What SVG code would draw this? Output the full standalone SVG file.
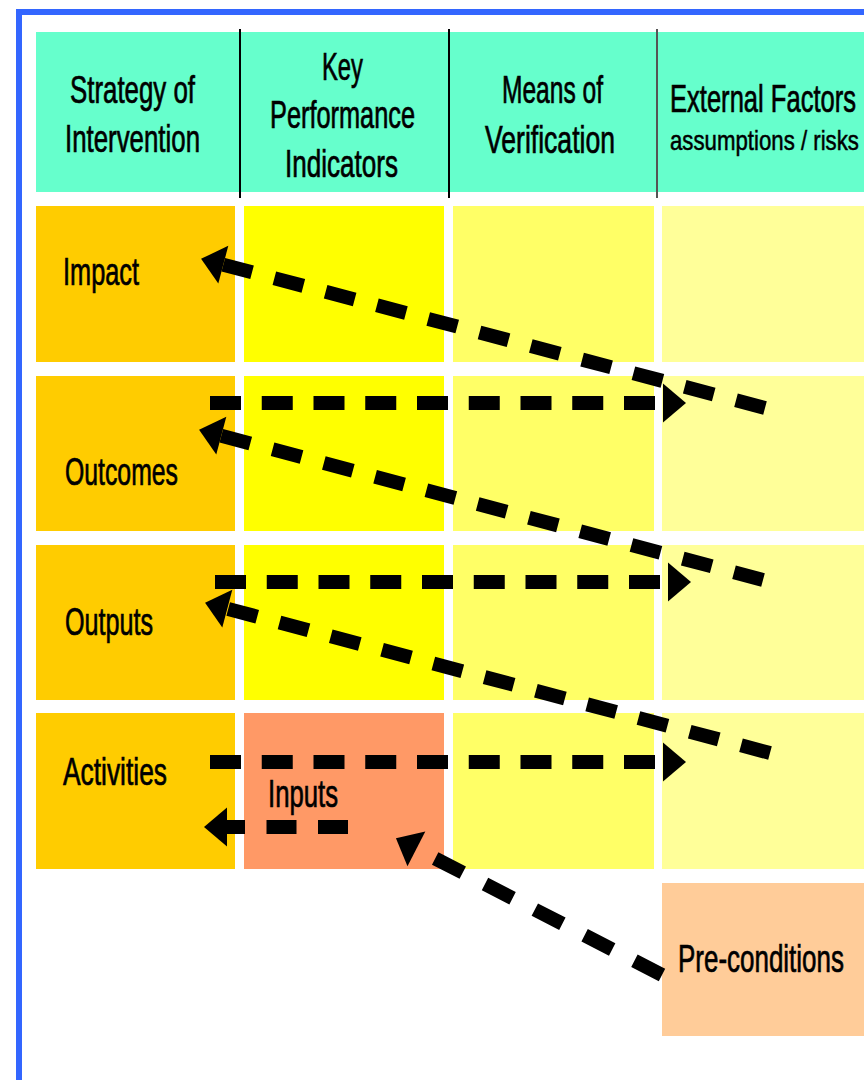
<svg xmlns="http://www.w3.org/2000/svg" width="864" height="1080" viewBox="0 0 864 1080">
  <style>
    .lbl { font-family: "Liberation Sans Narrow", "Liberation Sans", Arial, sans-serif; font-size: 38px; fill: #000; stroke: #000; stroke-width: 0.7px; }
    .wide { font-family: "Liberation Sans", Arial, sans-serif; }
    .sub { font-size: 27px; stroke-width: 0.5px; }
    .sep { stroke: #000; stroke-width: 2; }
    .flow { fill: none; stroke: #000; stroke-width: 14; marker-end: url(#head); }
    .fh { stroke-dasharray: 31 20.75; }
    .fd { stroke-dasharray: 30 23.06; }
    .hdr { fill: #66ffcc; }
    .strat { fill: #ffcc00; }
    .kpi { fill: #ffff00; }
    .mov { fill: #ffff66; }
    .ext { fill: #ffff99; }
  </style>
  <defs>
    <marker id="head" markerUnits="userSpaceOnUse" viewBox="0 -22 26 44" markerWidth="26" markerHeight="44" refX="0" refY="0" orient="auto" overflow="visible">
      <path d="M0,-19.5 L23,0 L0,19.5 Z" fill="#000"/>
    </marker>
  </defs>

  <rect width="864" height="1080" fill="#fff"/>
  <!-- outer frame -->
  <rect x="19" y="12" width="900" height="1100" fill="none" stroke="#3366ff" stroke-width="6"/>

  <!-- column headings -->
  <g id="header">
    <rect class="hdr" x="36" y="32" width="828" height="160"/>
    <line class="sep" x1="240" y1="29" x2="240" y2="198"/>
    <line class="sep" x1="449" y1="29" x2="449" y2="198"/>
    <line class="sep" x1="657" y1="29" x2="657" y2="198" style="stroke:#555"/>
  </g>
  <g id="head-strategy">
    <text class="lbl" x="70" y="103" textLength="125" lengthAdjust="spacingAndGlyphs">Strategy of</text>
    <text class="lbl" x="65" y="152" textLength="135" lengthAdjust="spacingAndGlyphs">Intervention</text>
  </g>
  <g id="head-kpi">
    <text class="lbl" x="322" y="80" textLength="41" lengthAdjust="spacingAndGlyphs">Key</text>
    <text class="lbl" x="270" y="128" textLength="145" lengthAdjust="spacingAndGlyphs">Performance</text>
    <text class="lbl" x="285" y="177" textLength="113" lengthAdjust="spacingAndGlyphs">Indicators</text>
  </g>
  <g id="head-mov">
    <text class="lbl" x="502" y="103" textLength="101" lengthAdjust="spacingAndGlyphs">Means of</text>
    <text class="lbl" x="485" y="153" textLength="130" lengthAdjust="spacingAndGlyphs">Verification</text>
  </g>
  <g id="head-ext">
    <text class="lbl wide" transform="translate(670,112) scale(0.672,1)" textLength="276.8" lengthAdjust="spacingAndGlyphs">External Factors</text>
    <text class="lbl wide sub" transform="translate(670,150) scale(0.823,1)" textLength="229.6" lengthAdjust="spacingAndGlyphs">assumptions / risks</text>
  </g>

  <!-- row: impact -->
  <g id="impact">
    <rect class="strat" x="36" y="206" width="199" height="156"/>
    <rect class="kpi" x="244" y="206" width="200" height="156"/>
    <rect class="mov" x="453" y="206" width="201" height="156"/>
    <rect class="ext" x="662" y="206" width="202" height="156"/>
    <text class="lbl" x="63" y="285" textLength="76" lengthAdjust="spacingAndGlyphs">Impact</text>
  </g>
  <!-- row: outcomes -->
  <g id="outcomes">
    <rect class="strat" x="36" y="376" width="199" height="155"/>
    <rect class="kpi" x="244" y="376" width="200" height="155"/>
    <rect class="mov" x="453" y="376" width="201" height="155"/>
    <rect class="ext" x="662" y="376" width="202" height="155"/>
    <text class="lbl" x="65" y="485" textLength="113" lengthAdjust="spacingAndGlyphs">Outcomes</text>
  </g>
  <!-- row: outputs -->
  <g id="outputs">
    <rect class="strat" x="36" y="545" width="199" height="155"/>
    <rect class="kpi" x="244" y="545" width="200" height="155"/>
    <rect class="mov" x="453" y="545" width="201" height="155"/>
    <rect class="ext" x="662" y="545" width="202" height="155"/>
    <text class="lbl" x="65" y="635" textLength="88" lengthAdjust="spacingAndGlyphs">Outputs</text>
  </g>
  <!-- row: activities -->
  <g id="activities">
    <rect class="strat" x="36" y="713" width="199" height="156"/>
    <rect class="mov" x="453" y="713" width="201" height="156"/>
    <rect class="ext" x="662" y="713" width="202" height="156"/>
    <text class="lbl" x="63" y="785" textLength="104" lengthAdjust="spacingAndGlyphs">Activities</text>
  </g>
  <g id="inputs">
    <rect x="244" y="713" width="200" height="156" fill="#ff9966"/>
    <text class="lbl" x="268" y="807" textLength="70" lengthAdjust="spacingAndGlyphs">Inputs</text>
  </g>
  <g id="preconditions">
    <rect x="662" y="883" width="202" height="153" fill="#ffcc99"/>
    <text class="lbl wide" transform="translate(678,972) scale(0.683,1)" textLength="242.9" lengthAdjust="spacingAndGlyphs">Pre-conditions</text>
  </g>

  <!-- dashed flows -->
  <g id="connectors">
    <path class="flow fd" d="M765,408 L223.3,264.7"/>
    <path class="flow fh" d="M210,403 H663"/>
    <path class="flow fd" d="M763,580 L221.3,435.7"/>
    <path class="flow fh" d="M215,582 H668"/>
    <path class="flow fd" d="M770,753 L227.3,608.7"/>
    <path class="flow fh" d="M210,762 H663"/>
    <path class="flow" d="M348,827 H227" style="stroke-dasharray:30 21.5"/>
    <path class="flow" d="M662,975 L416.4,848.8" style="stroke-dasharray:31 25"/>
  </g>
</svg>
